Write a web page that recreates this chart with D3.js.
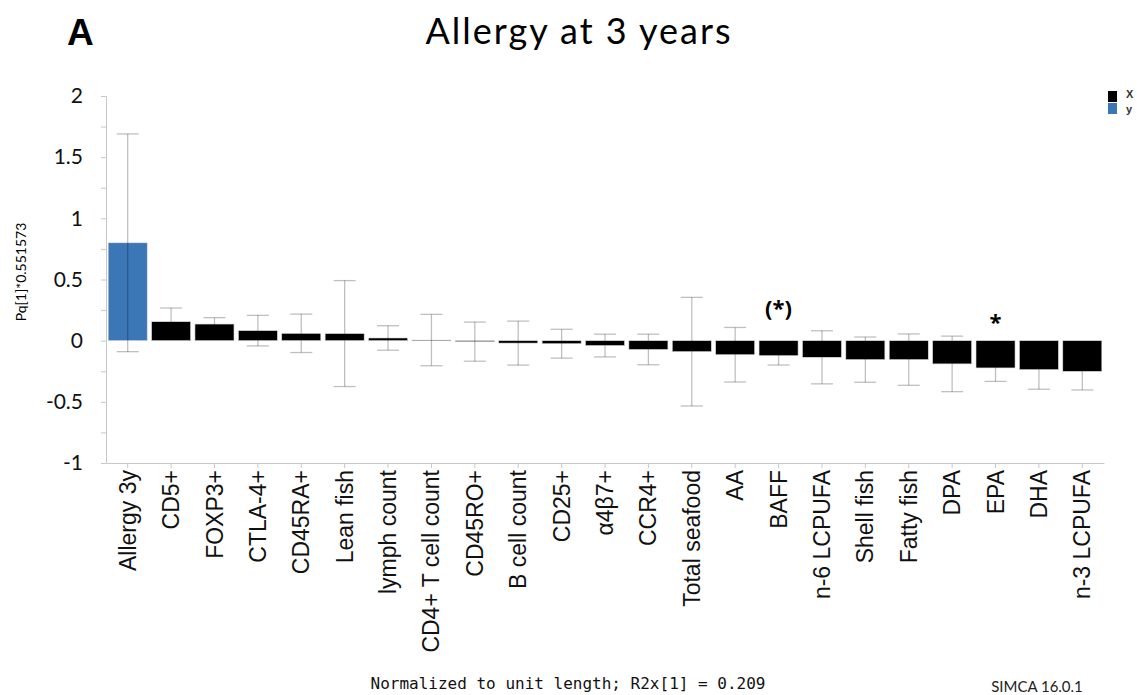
<!DOCTYPE html>
<html>
<head>
    <meta charset="utf-8">
    <title>Allergy at 3 years</title>
    <script src="https://d3js.org/d3.v7.min.js"></script>
    <style>
        body { margin: 0; background: #fff; }
        .axis path, .axis line { stroke: #c8c8c8; }
        .y.axis text { font: 21px Lato, "Open Sans", sans-serif; fill: #111; }
        .x.axis text { font: 23px "Liberation Sans", Arial, sans-serif; fill: #111; }
    </style>
</head>
<body>
<div id="chart"></div>
<script>
    // variables, in the order shown
    const categories = ["Allergy 3y", "CD5+", "FOXP3+", "CTLA-4+", "CD45RA+", "Lean fish",
        "lymph count", "CD4+ T cell count", "CD45RO+", "B cell count", "CD25+", "\u03b14\u03b27+",
        "CCR4+", "Total seafood", "AA", "BAFF", "n-6 LCPUFA", "Shell fish", "Fatty fish",
        "DPA", "EPA", "DHA", "n-3 LCPUFA"];
    const values = [0.80, 0.155, 0.136, 0.082, 0.06, 0.058, 0.022, 0.005, -0.008, -0.02,
        -0.025, -0.04, -0.072, -0.09, -0.115, -0.123, -0.136, -0.155, -0.155, -0.19,
        -0.223, -0.237, -0.251];
    const errors = [0.89, 0.112, 0.052, 0.125, 0.157, 0.433, 0.10, 0.21, 0.16, 0.18,
        0.118, 0.093, 0.125, 0.444, 0.223, 0.076, 0.217, 0.185, 0.21, 0.227,
        0.11, 0.16, 0.152];
    const yCategory = "Allergy 3y";
    const yTicks = d3.range(-1, 2.001, 0.25);
    const marks = ["BAFF", "EPA"];
    const markText = ["(*)", "*"];
    const legendKeys = ["X", "y"];

    const width = 1137, height = 695;
    const colX = "#000000", colY = "#3b77b7";

    const svg = d3.select("#chart").append("svg")
        .attr("width", width)
        .attr("height", height);

    const x = d3.scaleBand()
        .domain(categories)
        .range([106, 1104])
        .paddingInner(0.1)
        .paddingOuter(0.05);

    const y = d3.scaleLinear()
        .domain([-1, 2])
        .range([463, 96]);

    // y axis with minor ticks every 0.25
    svg.append("g")
        .attr("class", "y axis")
        .attr("transform", "translate(106,0)")
        .call(d3.axisLeft(y)
            .tickValues(yTicks)
            .tickSize(5)
            .tickPadding(18)
            .tickFormat(d => Math.abs(d * 2 - Math.round(d * 2)) < 1e-6 ? String(+d.toFixed(2)) : ""));

    // x axis
    const xAxis = svg.append("g")
        .attr("class", "x axis")
        .attr("transform", "translate(0,463)")
        .call(d3.axisBottom(x).tickSize(5).tickSizeOuter(0));
    xAxis.selectAll("text")
        .attr("transform", "rotate(-90)")
        .attr("x", -7)
        .attr("y", 0)
        .attr("dy", "0.35em")
        .style("text-anchor", "end");

    // bars
    svg.selectAll(".bar")
        .data(categories)
        .join("rect")
        .attr("class", "bar")
        .attr("x", d => x(d))
        .attr("width", x.bandwidth())
        .attr("y", (d, i) => y(Math.max(0, values[i])))
        .attr("height", (d, i) => Math.abs(y(values[i]) - y(0)))
        .attr("fill", d => d === yCategory ? colY : colX)
        .attr("stroke", "#ddd")
        .attr("stroke-width", 0.6);

    // error bars (drawn semi-transparent over the bars)
    const err = svg.append("g")
        .attr("stroke", "#000")
        .attr("stroke-opacity", 0.25)
        .attr("stroke-width", 1.3);
    categories.forEach((c, i) => {
        const cx = x(c) + x.bandwidth() / 2;
        const hi = y(values[i] + errors[i]), lo = y(values[i] - errors[i]);
        err.append("line").attr("x1", cx).attr("x2", cx).attr("y1", hi).attr("y2", lo);
        err.append("line").attr("x1", cx - 11).attr("x2", cx + 11).attr("y1", hi).attr("y2", hi);
        err.append("line").attr("x1", cx - 11).attr("x2", cx + 11).attr("y1", lo).attr("y2", lo);
    });

    // significance marks
    marks.forEach((c, i) => {
        svg.append("text")
            .attr("x", x(c) + x.bandwidth() / 2)
            .attr("y", i === 0 ? 316 : 330)
            .attr("text-anchor", "middle")
            .style("font", "bold 22px 'Open Sans', sans-serif")
            .text(markText[i]);
    });

    // titles
    svg.append("text")
        .attr("x", 67).attr("y", 45)
        .style("font", "bold 37px 'Liberation Sans', Arial, sans-serif")
        .text("A");
    svg.append("text")
        .attr("x", 579).attr("y", 44)
        .attr("text-anchor", "middle")
        .style("font", "36px Lato, sans-serif")
        .style("letter-spacing", "2px")
        .text("Allergy at 3 years");
    svg.append("text")
        .attr("transform", "translate(26,272) rotate(-90)")
        .attr("text-anchor", "middle")
        .style("font", "14px Lato, sans-serif")
        .text("Pq[1]*0.551573");
    svg.append("text")
        .attr("x", 568).attr("y", 689)
        .attr("text-anchor", "middle")
        .style("font", "16px 'DejaVu Sans Mono', monospace")
        .style("fill", "#111")
        .text("Normalized to unit length; R2x[1] = 0.209");
    svg.append("text")
        .attr("x", 1037).attr("y", 692)
        .attr("text-anchor", "middle")
        .style("font", "15px Lato, sans-serif")
        .style("fill", "#222")
        .text("SIMCA 16.0.1");

    // legend
    const legend = svg.append("g").attr("transform", "translate(1108,91)");
    legendKeys.forEach((k, i) => {
        legend.append("rect")
            .attr("x", 0).attr("y", i * 12)
            .attr("width", 9).attr("height", 11)
            .attr("fill", i === 0 ? colX : colY);
        legend.append("text")
            .attr("x", 18).attr("y", i === 0 ? 7 : 22)
            .style("font", "bold 11px 'Liberation Sans', sans-serif")
            .style("fill", "#333")
            .text(k);
    });
</script>
</body>
</html>
